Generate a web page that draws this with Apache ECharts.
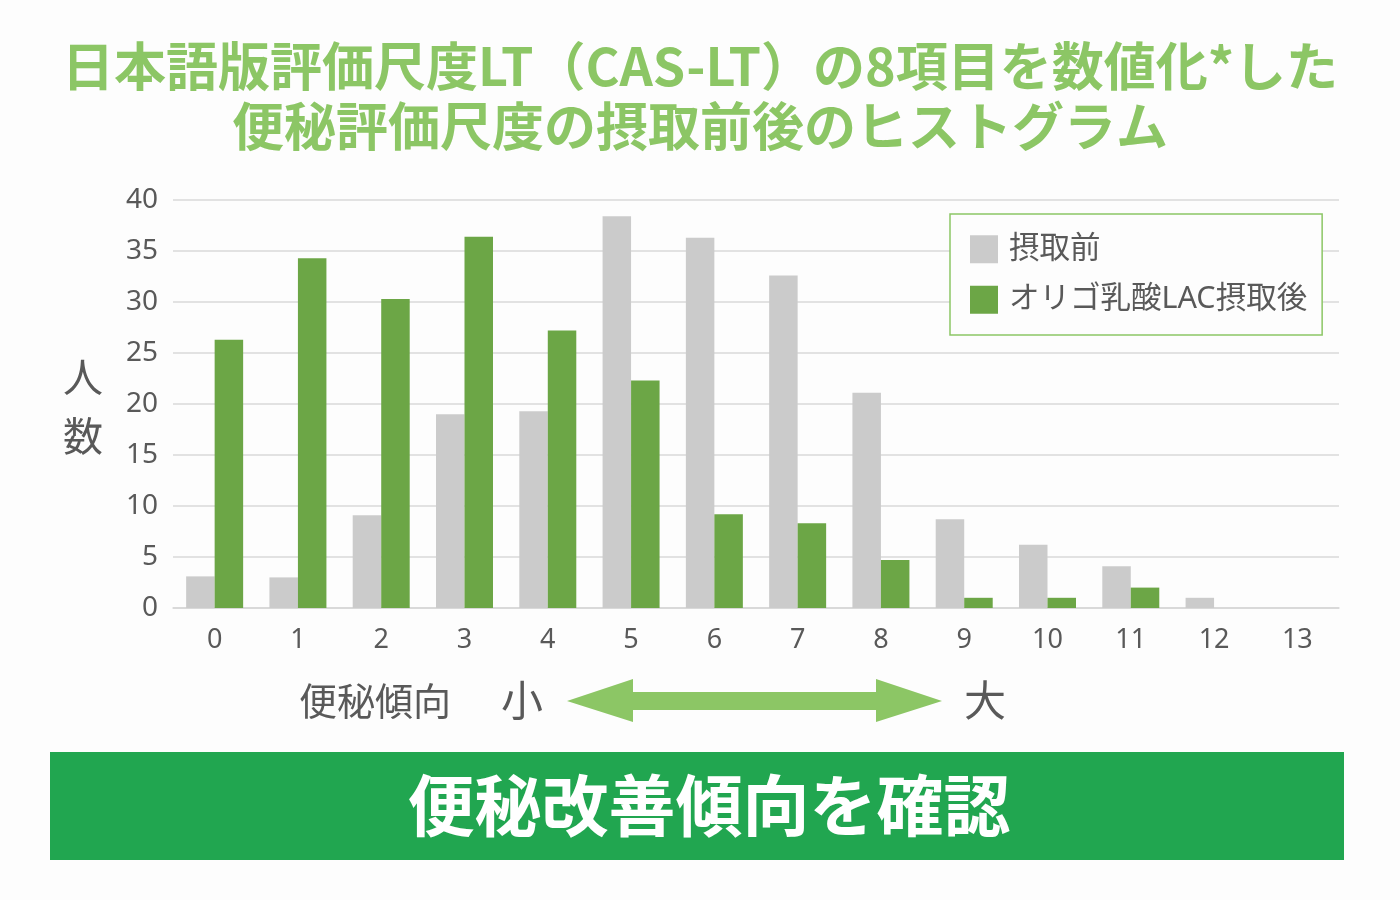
<!DOCTYPE html>
<html>
<head>
<meta charset="utf-8">
<script src="https://cdn.jsdelivr.net/npm/echarts@6/dist/echarts.min.js"></script>
<style>
  html, body { margin: 0; padding: 0; background: #fdfdfd; }
  #chart { width: 1400px; height: 900px; }
</style>
</head>
<body>
<div id="chart"></div>
<script>
// 便秘評価尺度スコア（0〜13）
const scores = ['0', '1', '2', '3', '4', '5', '6', '7', '8', '9', '10', '11', '12', '13'];
const yTicks = [0, 5, 10, 15, 20, 25, 30, 35, 40];
const beforeName = '摂取前';
const afterName = 'オリゴ乳酸LAC摂取後';
const beforeCounts = [3.1, 3.0, 9.1, 19.0, 19.3, 38.4, 36.3, 32.6, 21.1, 8.7, 6.2, 4.1, 1.0, 0];
const afterCounts = [26.3, 34.3, 30.3, 36.4, 27.2, 22.3, 9.2, 8.3, 4.7, 1.0, 1.0, 2.0, 0, 0];

const FONT = "'Noto Sans', 'Noto Sans CJK JP', sans-serif";
const TEXT = '#595959';
const LIGHT_GREEN = '#8cc665';

const chart = echarts.init(document.getElementById('chart'));

const option = {
  backgroundColor: '#fdfdfd',
  animation: false,
  textStyle: { fontFamily: FONT },
  grid: { left: 173, right: 61, top: 200, bottom: 292 },
  legend: {
    data: [beforeName, afterName],
    orient: 'vertical',
    left: 950,
    top: 214,
    padding: [20, 15, 20, 20],
    itemGap: 20,
    itemWidth: 28,
    itemHeight: 28,
    icon: 'rect',
    borderColor: LIGHT_GREEN,
    borderWidth: 1.5,
    backgroundColor: '#fdfdfd',
    textStyle: { fontSize: 30.5, color: TEXT, fontFamily: FONT, padding: [0, 0, 0, 6] }
  },
  xAxis: {
    type: 'category',
    data: scores,
    axisLine: { show: true, lineStyle: { color: '#d6d6d6', width: 1.5 } },
    axisTick: { show: false },
    axisLabel: { fontSize: 27, color: TEXT, margin: 19, fontFamily: FONT }
  },
  yAxis: {
    type: 'value',
    min: yTicks[0],
    max: yTicks[yTicks.length - 1],
    interval: 5,
    axisLine: { show: false },
    axisTick: { show: false },
    axisLabel: { fontSize: 28, color: TEXT, margin: 15, fontFamily: FONT },
    splitLine: { lineStyle: { color: '#d9d9d9', width: 1.5 } }
  },
  series: [
    {
      name: beforeName,
      type: 'bar',
      data: beforeCounts,
      barWidth: 28.5,
      barGap: '0%',
      itemStyle: { color: '#cbcbcb' }
    },
    {
      name: afterName,
      type: 'bar',
      data: afterCounts,
      barWidth: 28.5,
      itemStyle: { color: '#6ca646' }
    }
  ],
  graphic: [
    {
      type: 'text', left: 'center', top: 40,
      style: {
        text: '日本語版評価尺度LT（CAS-LT）の8項目を数値化*した',
        fontSize: 52, fontWeight: 'bold', fill: LIGHT_GREEN, fontFamily: "'Noto Sans CJK JP', sans-serif"
      }
    },
    {
      type: 'text', left: 'center', top: 100,
      style: {
        text: '便秘評価尺度の摂取前後のヒストグラム',
        fontSize: 52, fontWeight: 'bold', fill: LIGHT_GREEN, fontFamily: "'Noto Sans CJK JP', sans-serif"
      }
    },
    {
      type: 'text', x: 83, y: 406,
      style: {
        text: '人\n数', fontSize: 40, lineHeight: 59, fill: TEXT,
        align: 'center', verticalAlign: 'middle', fontFamily: "'Noto Sans CJK JP', sans-serif"
      }
    },
    {
      type: 'text', x: 299, y: 701,
      style: {
        text: '便秘傾向', fontSize: 38, fill: TEXT, verticalAlign: 'middle',
        fontFamily: "'Noto Sans CJK JP', sans-serif"
      }
    },
    {
      type: 'text', x: 522, y: 700,
      style: {
        text: '小', fontSize: 42, fill: TEXT, align: 'center', verticalAlign: 'middle',
        fontFamily: "'Noto Sans CJK JP', sans-serif"
      }
    },
    {
      type: 'text', x: 985, y: 700,
      style: {
        text: '大', fontSize: 42, fill: TEXT, align: 'center', verticalAlign: 'middle',
        fontFamily: "'Noto Sans CJK JP', sans-serif"
      }
    },
    {
      // 左右両方向の矢印
      type: 'polygon',
      shape: {
        points: [
          [567, 701], [633, 679], [633, 692], [876, 692], [876, 679],
          [942, 701], [876, 722], [876, 710], [633, 710], [633, 722]
        ]
      },
      style: { fill: LIGHT_GREEN }
    },
    {
      type: 'rect',
      shape: { x: 50, y: 752, width: 1294, height: 108 },
      style: { fill: '#21a650' }
    },
    {
      type: 'text', x: 709, y: 806,
      style: {
        text: '便秘改善傾向を確認', fontSize: 67, fontWeight: 'bold', fill: '#ffffff',
        align: 'center', verticalAlign: 'middle', fontFamily: "'Noto Sans CJK JP', sans-serif"
      }
    }
  ]
};

chart.setOption(option);
</script>
</body>
</html>
